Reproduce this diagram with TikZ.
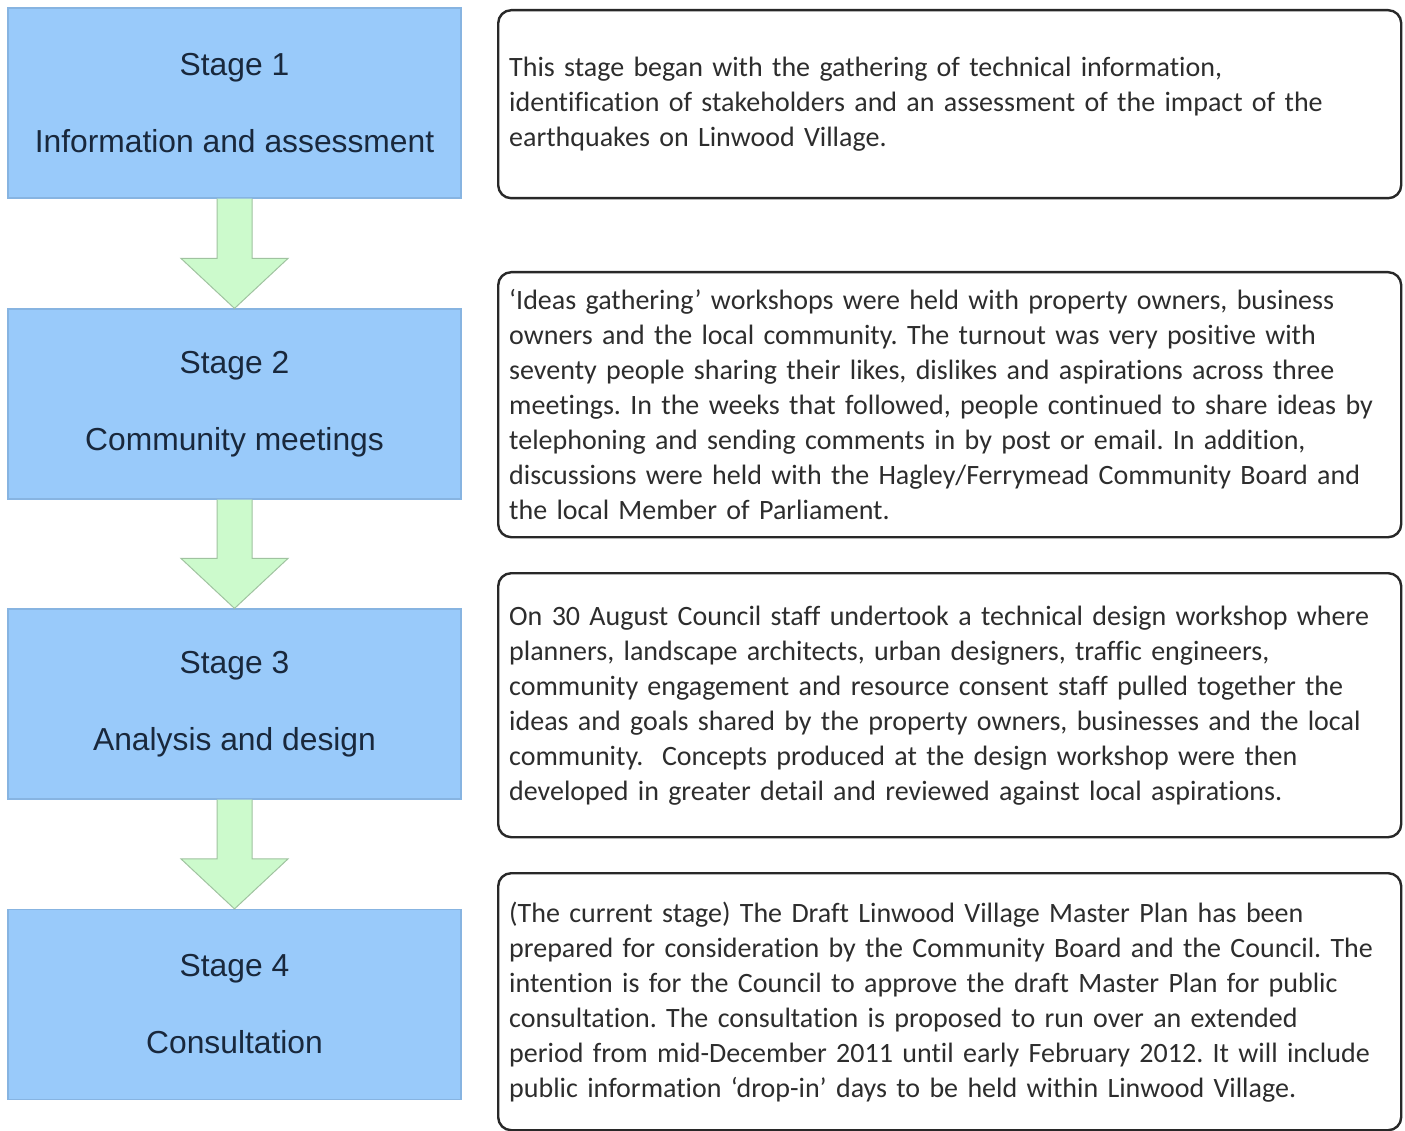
\documentclass[tikz,border=0pt]{standalone}
\usepackage{fontspec}
\setmainfont{Carlito}[Ligatures={NoCommon}]
\newfontfamily\stagefont{Liberation Sans}
\usetikzlibrary{calc}
\definecolor{stagefill}{RGB}{153,202,250}
\definecolor{stageedge}{RGB}{135,180,225}
\definecolor{stagetext}{RGB}{25,40,60}
\definecolor{flowfill}{RGB}{204,250,204}
\definecolor{flowedge}{RGB}{160,195,160}
\definecolor{notetext}{RGB}{45,45,45}
\definecolor{noteedge}{RGB}{40,40,40}
\frenchspacing
\begin{document}
\begin{tikzpicture}[x=1pt,y=-1pt,
  stagebox/.style={draw=stageedge, fill=stagefill, line width=1.2pt,
    minimum width=453pt, minimum height=190pt, inner sep=0pt,
    align=center, text=stagetext,
    font=\stagefont\fontsize{31.8}{77}\selectfont},
  notebox/.style={draw=noteedge, line width=2.4pt, rounded corners=13pt,
    fill=white, text width=881pt, inner xsep=11pt, inner ysep=0pt,
    align=left, text=notetext,
    font=\fontsize{28}{35}\selectfont},
  flowarrow/.style={draw=flowedge, fill=flowfill, line width=1pt, line join=miter}
]
\useasboundingbox (0,0) rectangle (1405,1131);
\fill[white] (0,0) rectangle (1405,1131);

% stage boxes on the left
\node[stagebox] (s1) at (234.5,103)  {Stage 1\\Information and assessment};
\node[stagebox] (s2) at (234.5,404)  {Stage 2\\Community meetings};
\node[stagebox] (s3) at (234.5,704)  {Stage 3\\Analysis and design};
\node[stagebox] (s4) at (234.5,1004.5) {Stage 4\\Consultation};

% block arrows between stages
\foreach \a/\b in {s1/s2, s2/s3, s3/s4}{
  \draw[flowarrow]
    ($(\a.south)+(-17.5,0)$) -- ($(\b.north)+(-17.5,-50)$) --
    ($(\b.north)+(-53.5,-50)$) -- (\b.north) --
    ($(\b.north)+(53.5,-50)$) -- ($(\b.north)+(17.5,-50)$) --
    ($(\a.south)+(17.5,0)$);
}

% description boxes on the right
\node[notebox, minimum height=188pt, anchor=north west] (d1) at (497,9)
  {This stage began with the gathering of technical information,\\
   identification of stakeholders and an assessment of the impact of the\\
   earthquakes on Linwood Village.};
\node[notebox, minimum height=265pt, anchor=north west] (d2) at (497,271)
  {‘Ideas gathering’ workshops were held with property owners, business\\
   owners and the local community. The turnout was very positive with\\
   seventy people sharing their likes, dislikes and aspirations across three\\
   meetings. In the weeks that followed, people continued to share ideas by\\
   telephoning and sending comments in by post or email. In addition,\\
   discussions were held with the Hagley/Ferrymead Community Board and\\
   the local Member of Parliament.};
\node[notebox, minimum height=264pt, anchor=north west] (d3) at (497,572)
  {On 30 August Council staff undertook a technical design workshop where\\
   planners, landscape architects, urban designers, traffic engineers,\\
   community engagement and resource consent staff pulled together the\\
   ideas and goals shared by the property owners, businesses and the local\\
   community.\ \ Concepts produced at the design workshop were then\\
   developed in greater detail and reviewed against local aspirations.};
\node[notebox, minimum height=257pt, anchor=north west] (d4) at (497,872)
  {(The current stage) The Draft Linwood Village Master Plan has been\\
   prepared for consideration by the Community Board and the Council. The\\
   intention is for the Council to approve the draft Master Plan for public\\
   consultation. The consultation is proposed to run over an extended\\
   period from mid-December 2011 until early February 2012. It will include\\
   public information ‘drop-in’ days to be held within Linwood Village.};
\end{tikzpicture}
\end{document}
